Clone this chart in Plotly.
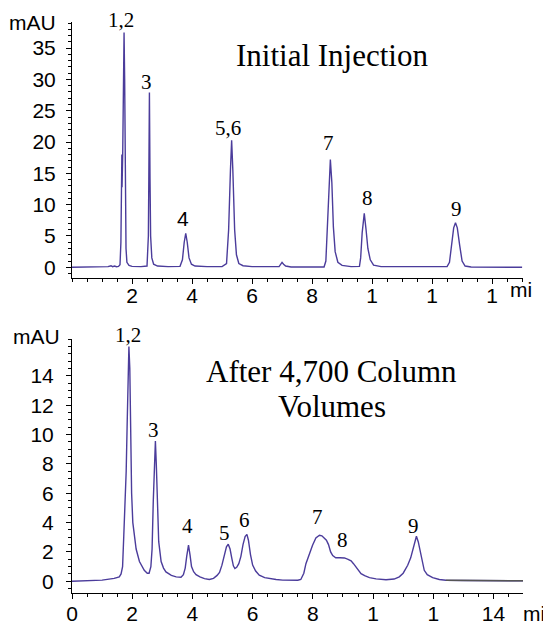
import plotly.graph_objects as go

# ---------------- data ----------------
top_time = [0.0, 0.8, 0.85, 0.9, 1.0, 1.1, 1.2, 1.3, 1.35, 1.42, 1.48, 1.55, 1.60, 1.63, 1.655, 1.662, 1.668,
            1.69, 1.71, 1.735, 1.755, 1.775, 1.80, 1.83, 1.90, 2.0, 2.3, 2.50, 2.545, 2.56, 2.58, 2.60, 2.62,
            2.66, 2.72, 2.85, 3.2, 3.6, 3.68, 3.74, 3.79, 3.84, 3.90, 3.98, 4.1, 4.5, 5.0, 5.15, 5.22, 5.28,
            5.32, 5.36, 5.42, 5.48, 5.56, 5.7, 6.0, 6.9, 6.96, 7.0, 7.05, 7.12, 7.3, 8.4, 8.46, 8.51, 8.56,
            8.61, 8.66, 8.71, 8.77, 8.86, 9.0, 9.3, 9.58, 9.62, 9.67, 9.74, 9.80, 9.86, 9.94, 10.05, 10.3,
            12.5, 12.58, 12.64, 12.72, 12.78, 12.84, 12.92, 13.0, 13.1, 13.3, 15.0]
top_mau = [0.0, 0.0, 0.1, 0.05, 0.1, 0.05, 0.1, 0.25, 0.1, 0.2, 0.1, 0.15, 0.4, 4.0, 12.5, 18.0, 12.8,
           18.0, 28.0, 37.5, 30.0, 12.0, 3.0, 0.8, 0.3, 0.15, 0.1, 0.2, 5.0, 14.0, 27.9, 14.0, 5.0,
           1.5, 0.5, 0.2, 0.1, 0.15, 1.2, 4.0, 5.4, 4.0, 1.5, 0.5, 0.2, 0.1, 0.1, 0.6, 6.0, 15.5,
           20.3, 15.5, 6.0, 2.0, 0.6, 0.25, 0.1, 0.1, 0.5, 0.78, 0.5, 0.2, 0.05, 0.05, 1.0, 6.0, 13.5,
           17.2, 13.5, 6.5, 2.5, 0.8, 0.3, 0.1, 0.15, 1.5, 5.5, 8.6, 6.0, 3.0, 1.2, 0.35, 0.1,
           0.1, 0.8, 3.5, 6.3, 7.1, 6.3, 3.5, 1.0, 0.2, 0.05, 0.0]

bot_time = [0.0, 0.5, 1.0, 1.4, 1.57, 1.63, 1.68, 1.72, 1.76, 1.775, 1.785, 1.80, 1.83, 1.86, 1.89, 1.92,
            1.95, 1.98, 2.02, 2.08, 2.13, 2.24, 2.32, 2.40, 2.50, 2.56, 2.62, 2.66, 2.70, 2.74, 2.77, 2.80,
            2.83, 2.88, 2.96, 3.04, 3.12, 3.30, 3.46, 3.62, 3.70, 3.76, 3.81, 3.87, 3.92, 3.97, 4.04, 4.12,
            4.25, 4.40, 4.56, 4.70, 4.82, 4.90, 4.98, 5.06, 5.13, 5.19, 5.25, 5.31, 5.36, 5.41, 5.47, 5.54,
            5.61, 5.68, 5.75, 5.81, 5.86, 5.93, 6.0, 6.1, 6.22, 6.4, 6.6, 6.78, 7.0, 7.22, 7.5, 7.6, 7.7,
            7.77, 7.88, 7.99, 8.1, 8.22, 8.30, 8.38, 8.45, 8.52, 8.59, 8.66, 8.76, 8.9, 9.05, 9.17, 9.27,
            9.35, 9.43, 9.52, 9.6, 9.72, 9.88, 10.1, 10.43, 10.7, 10.87, 11.0, 11.15, 11.25, 11.32, 11.38,
            11.44, 11.50, 11.56, 11.62, 11.70, 11.8, 11.98, 12.2, 12.42, 13.0, 14.0, 15.0]
bot_mau = [0.0, 0.03, 0.08, 0.2, 0.3, 0.5, 1.0, 3.1, 5.5, 5.9, 5.6, 7.5, 10.5, 14.5, 16.0, 14.5,
           9.0, 6.0, 4.0, 2.9, 2.2, 1.35, 1.0, 0.75, 0.55, 0.55, 1.0, 2.2, 5.5, 8.5, 9.56, 8.0,
           5.5, 2.7, 1.35, 0.9, 0.64, 0.4, 0.3, 0.28, 0.45, 0.9, 1.7, 2.46, 1.8, 1.0, 0.65, 0.45,
           0.3, 0.18, 0.12, 0.2, 0.4, 0.6, 1.1, 1.77, 2.35, 2.53, 2.2, 1.55, 1.05, 0.87, 0.95, 1.2,
           1.7, 2.5, 3.05, 3.2, 2.8, 1.8, 1.1, 0.7, 0.41, 0.25, 0.16, 0.12, 0.08, 0.06, 0.07, 0.12, 0.55,
           1.2, 1.9, 2.46, 2.95, 3.14, 3.1, 2.95, 2.8, 2.5, 2.0, 1.75, 1.6, 1.6, 1.59, 1.5, 1.39,
           1.2, 0.98, 0.72, 0.52, 0.38, 0.25, 0.16, 0.1, 0.15, 0.3, 0.55, 1.09, 1.6, 2.1, 2.7,
           3.07, 2.7, 2.1, 1.4, 0.75, 0.45, 0.25, 0.12, 0.07, 0.05, 0.03, 0.03]
bot_gray_start = 12.42

top_xtickvals = [2, 4, 6, 8, 10, 12, 14]
top_xticktext = ["2", "4", "6", "8", "1", "1", "1"]
bot_xtickvals = [0, 2, 4, 6, 8, 10, 12, 14]
bot_xticktext = ["0", "2", "4", "6", "8", "1", "1", "14"]
top_ytickvals = [0, 5, 10, 15, 20, 25, 30, 35]
bot_ytickvals = [0, 2, 4, 6, 8, 10, 12, 14]

top_peak_labels = ["1,2", "3", "4", "5,6", "7", "8", "9"]
top_peak_t = [1.64, 2.47, 3.70, 5.20, 8.55, 9.85, 12.82]
top_peak_v = [39.5, 29.6, 7.8, 22.2, 19.8, 11.0, 9.25]
bot_peak_labels = ["1,2", "3", "4", "5", "6", "7", "8", "9"]
bot_peak_t = [1.85, 2.70, 3.84, 5.07, 5.73, 8.14, 8.99, 11.35]
bot_peak_v = [16.8, 10.3, 3.75, 3.26, 4.21, 4.35, 2.80, 3.75]

top_title = "Initial Injection"
bot_title_lines = ["After 4,700 Column", "Volumes"]

# ---------------- layout constants ----------------
LINE = "#4b3c9b"
SERIF = "Liberation Serif, Times New Roman, serif"
SANS = "Liberation Sans, Arial, sans-serif"

TOP_XR = [0, 15.03]
TOP_YR = [-1.77, 39.17]
TOP_DOM = [0.551, 1.0]
BOT_XR = [0, 14.98]
BOT_YR = [-0.8, 16.5]
BOT_DOM = [0.0, 0.4443]


def to_paper(t, v, xr, yr, dom):
    px = (t - xr[0]) / (xr[1] - xr[0])
    py = dom[0] + (v - yr[0]) / (yr[1] - yr[0]) * (dom[1] - dom[0])
    return px, py


fig = go.Figure()
fig.add_trace(go.Scatter(x=top_time, y=top_mau, mode="lines", xaxis="x", yaxis="y",
                         line=dict(color=LINE, width=1.4), hoverinfo="skip"))
fig.add_trace(go.Scatter(x=bot_time, y=bot_mau, mode="lines", xaxis="x2", yaxis="y2",
                         line=dict(color=LINE, width=1.4), hoverinfo="skip"))
gx = [t for t in bot_time if t >= bot_gray_start]
gy = [v for t, v in zip(bot_time, bot_mau) if t >= bot_gray_start]
fig.add_trace(go.Scatter(x=gx, y=gy, mode="lines", xaxis="x2", yaxis="y2",
                         line=dict(color="#555555", width=1.4), hoverinfo="skip"))

axis_common = dict(showline=True, linecolor="black", linewidth=1, showgrid=False, zeroline=False,
                   ticks="outside", ticklen=5, tickcolor="black", tickwidth=1, automargin=False,
                   tickfont=dict(family=SANS, size=21, color="black"))


def minor(dt):
    return dict(tickmode="linear", tick0=0, dtick=dt, ticks="outside", ticklen=3, tickcolor="black")


# the page body has an 8px margin, so the figure is 8px smaller and the margins 8px narrower
fig.update_layout(
    width=543, height=616,
    margin=dict(l=64, r=28, t=14, b=31, autoexpand=False),
    plot_bgcolor="white", paper_bgcolor="white",
    showlegend=False,
    xaxis=dict(domain=[0, 1], anchor="y", range=TOP_XR, tickmode="array",
               tickvals=top_xtickvals, ticktext=top_xticktext, ticklabelstandoff=-7,
               minor=minor(0.5), **axis_common),
    yaxis=dict(domain=TOP_DOM, anchor="x", range=TOP_YR, tickmode="array",
               tickvals=top_ytickvals, ticklabelstandoff=6, minor=minor(1), **axis_common),
    xaxis2=dict(domain=[0, 1], anchor="y2", range=BOT_XR, tickmode="array",
                tickvals=bot_xtickvals, ticktext=bot_xticktext, ticklabelstandoff=-3,
                minor=minor(0.5), **axis_common),
    yaxis2=dict(domain=BOT_DOM, anchor="x2", range=BOT_YR, tickmode="array",
                tickvals=bot_ytickvals, ticklabelstandoff=8, minor=minor(0.5), **axis_common),
)

ann = []
for lab, t, v in zip(top_peak_labels, top_peak_t, top_peak_v):
    fam = SANS if lab == "4" else SERIF
    px, py = to_paper(t, v, TOP_XR, TOP_YR, TOP_DOM)
    ann.append(dict(x=px, y=py, xref="paper", yref="paper", text=lab, showarrow=False,
                    xanchor="center", yanchor="middle", font=dict(family=fam, size=21, color="black")))
for lab, t, v in zip(bot_peak_labels, bot_peak_t, bot_peak_v):
    px, py = to_paper(t, v, BOT_XR, BOT_YR, BOT_DOM)
    ann.append(dict(x=px, y=py, xref="paper", yref="paper", text=lab, showarrow=False,
                    xanchor="center", yanchor="middle", font=dict(family=SERIF, size=21, color="black")))

px, py = to_paper(8.67, 33.9, TOP_XR, TOP_YR, TOP_DOM)
ann.append(dict(x=px, y=py, xref="paper", yref="paper", text=top_title, showarrow=False,
                xanchor="center", yanchor="middle", font=dict(family=SERIF, size=31, color="black")))
for line_text, v in zip(bot_title_lines, [14.33, 11.9]):
    px, py = to_paper(8.62, v, BOT_XR, BOT_YR, BOT_DOM)
    ann.append(dict(x=px, y=py, xref="paper", yref="paper", text=line_text, showarrow=False,
                    xanchor="center", yanchor="middle", font=dict(family=SERIF, size=31, color="black")))

# unit labels
ann.append(dict(x=-0.0304, y=0.999, xref="paper", yref="paper", text="mAU", showarrow=False,
                xanchor="right", yanchor="middle", font=dict(family=SANS, size=21, color="black")))
ann.append(dict(x=-0.0228, y=0.4489, xref="paper", yref="paper", text="mAU", showarrow=False,
                xanchor="right", yanchor="middle", font=dict(family=SANS, size=21, color="black")))
ann.append(dict(x=0.9956, y=0.5307, xref="paper", yref="paper", text="mi", showarrow=False,
                xanchor="center", yanchor="middle", font=dict(family=SANS, size=21, color="black")))
ann.append(dict(x=1.050, y=-0.0363, xref="paper", yref="paper", text="mi", showarrow=False,
                xanchor="right", yanchor="middle", borderpad=0,
                font=dict(family=SANS, size=21, color="black")))

fig.update_layout(annotations=ann)
fig.write_html("out.html")
